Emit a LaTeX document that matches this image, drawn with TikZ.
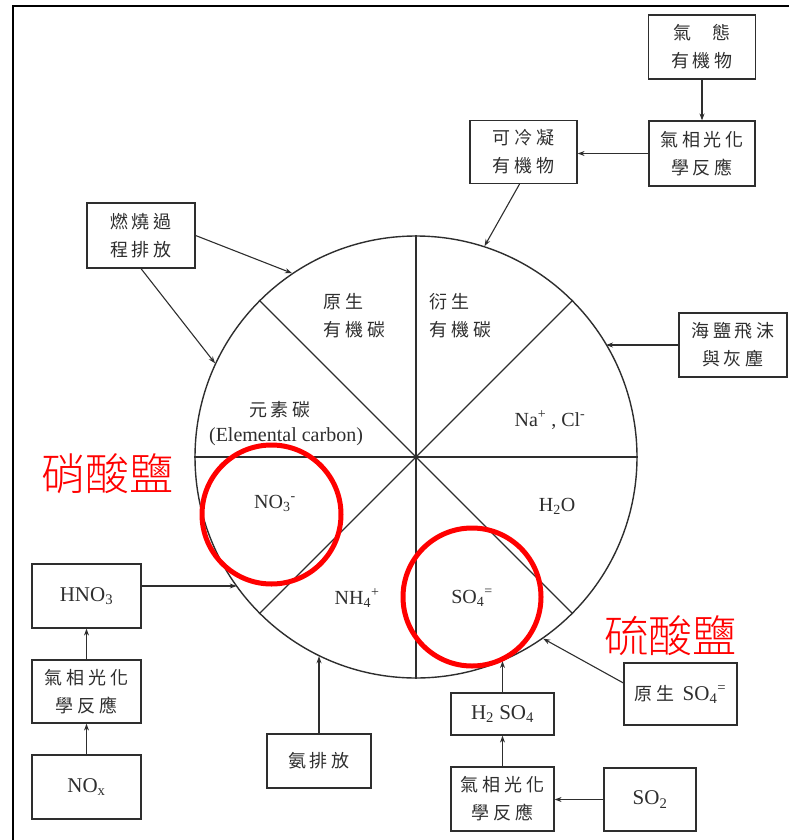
\documentclass[tikz,border=0pt]{standalone}
\usepackage{fontspec}
\setmainfont{Liberation Serif}
\newfontfamily\cjk[LetterSpace=22]{Noto Sans CJK TC}
\newfontfamily\cjkred{Noto Sans CJK TC Light}
\usetikzlibrary{arrows.meta}
\definecolor{ink}{HTML}{2E2E2E}
\definecolor{mark}{HTML}{FF0000}
\tikzset{
  box/.style={draw=ink, line width=1.2pt, inner sep=0pt, align=center, text=ink,
    font=\cjk\fontsize{18}{28}\selectfont},
  lbox/.style={draw=ink, line width=1.2pt, inner sep=0pt, align=center, text=ink,
    font=\fontsize{21}{26}\selectfont},
  arr/.style={draw=ink, line width=1.1pt, -{Stealth[length=7pt,width=5pt]}},
  lab/.style={font=\fontsize{20}{24}\selectfont, text=ink},
  clab/.style={font=\cjk\fontsize{18}{28}\selectfont, align=left, text=ink},
  redc/.style={draw=mark, line width=5pt, circle, inner sep=0pt},
  redt/.style={font=\cjkred\fontsize{44}{44}\selectfont, text=mark}
}
\begin{document}
\begin{tikzpicture}[x=1pt,y=-1pt]
\useasboundingbox (0,0) rectangle (789,840);
% frame
\draw[black, line width=2pt] (13,840) -- (13,6) -- (789,6);

% pie chart
\node[draw=ink, line width=1.4pt, circle, minimum size=442pt, inner sep=0pt] (C) at (416,457) {};
\draw[ink, line width=1.2pt] (C.0) -- (C.180);
\draw[ink, line width=1.2pt] (C.90) -- (C.270);
\draw[ink, line width=1.2pt] (C.45) -- (C.225);
\draw[ink, line width=1.2pt] (C.135) -- (C.315);
\fill[ink] (C.center) circle (2pt);

% labels inside circle
\node[clab, anchor=west] (ppoc) at (320,316) {原生\\有機碳};
\node[clab, anchor=west] (spoc) at (426,316) {衍生\\有機碳};
\node[clab] (ec) at (280,410) {元素碳};
\node[lab] (ecen) at (286,437) {(Elemental carbon)};
\node[lab] (nacl) at (550,420) {Na\textsuperscript{+} , Cl\textsuperscript{-}};
\node[lab] (h2o) at (557,506) {H\textsubscript{2}O};
\node[lab] (no3) at (275,503) {NO\textsubscript{3}\textsuperscript{-}};
\node[lab] (nh4) at (357,598) {NH\textsubscript{4}\textsuperscript{+}};
\node[lab] (so4) at (472,598) {SO\textsubscript{4}\textsuperscript{=}};

% boxes
\node[box, minimum width=107pt, minimum height=64pt] (gas) at (702,47) {氣\hspace{1.2em}態\\有機物};
\node[box, minimum width=106pt, minimum height=65pt] (photoTR) at (702,153.5) {氣相光化\\學反應};
\node[box, minimum width=107pt, minimum height=63pt] (cond) at (523.5,152) {可冷凝\\有機物};
\node[box, minimum width=108pt, minimum height=65pt] (comb) at (141,235.5) {燃燒過\\程排放};
\node[box, minimum width=108pt, minimum height=64pt] (sea) at (733,345) {海鹽飛沫\\與灰塵};
\node[lbox, minimum width=109pt, minimum height=64pt] (hno3) at (86.5,596) {HNO\textsubscript{3}};
\node[box, minimum width=109pt, minimum height=63pt] (photoL) at (86.5,691.5) {氣相光化\\學反應};
\node[lbox, minimum width=109pt, minimum height=64pt] (nox) at (86.5,787) {NO\textsubscript{x}};
\node[box, minimum width=104pt, minimum height=54pt] (amm) at (319,761) {氨排放};
\node[lbox, minimum width=103pt, minimum height=42pt] (h2so4) at (502.5,714) {H\textsubscript{2} SO\textsubscript{4}};
\node[box, minimum width=103pt, minimum height=64pt] (photoB) at (502.5,799) {氣相光化\\學反應};
\node[lbox, minimum width=92pt, minimum height=63pt] (so2) at (650,799.5) {SO\textsubscript{2}};
\node[box, minimum width=113pt, minimum height=62pt] (prim) at (680.5,694) {原生 {\rmfamily\fontsize{21}{26}\selectfont SO\textsubscript{4}\textsuperscript{=}}};

% connectors
\draw[arr] (gas.south) -- (photoTR.north);
\draw[arr] (photoTR.west) -- (cond.east |- photoTR.west);
\draw[arr] ([xshift=-4pt]cond.south) -- (C.72);
\draw[arr] (comb.east) -- (C.124);
\draw[arr] (comb.south) -- (C.155);
\draw[arr] (sea.west) -- (C.31 |- sea.west);
\coordinate (hnoS) at ([yshift=10pt]hno3.east);
\draw[arr] (hnoS) -- (C.216 |- hnoS);
\draw[arr] (photoL.north) -- (hno3.south);
\draw[arr] (nox.north) -- (photoL.south);
\draw[arr] (amm.north) -- (amm.north |- C.244);
\draw[arr] (h2so4.north) -- (h2so4.north |- C.293);
\draw[arr] (photoB.north) -- (h2so4.south);
\draw[arr] (so2.west) -- (photoB.east |- so2.west);
\draw[arr] ([yshift=11pt]prim.west) -- (C.305);

% red annotations
\node[redc, minimum size=139pt] (ring1) at (271.5,514.5) {};
\node[redc, minimum size=138pt] (ring2) at (472,597) {};
\node[redt] (nitr) at (107,474) {硝酸鹽};
\node[redt] (sulf) at (670,636) {硫酸鹽};
\end{tikzpicture}
\end{document}
